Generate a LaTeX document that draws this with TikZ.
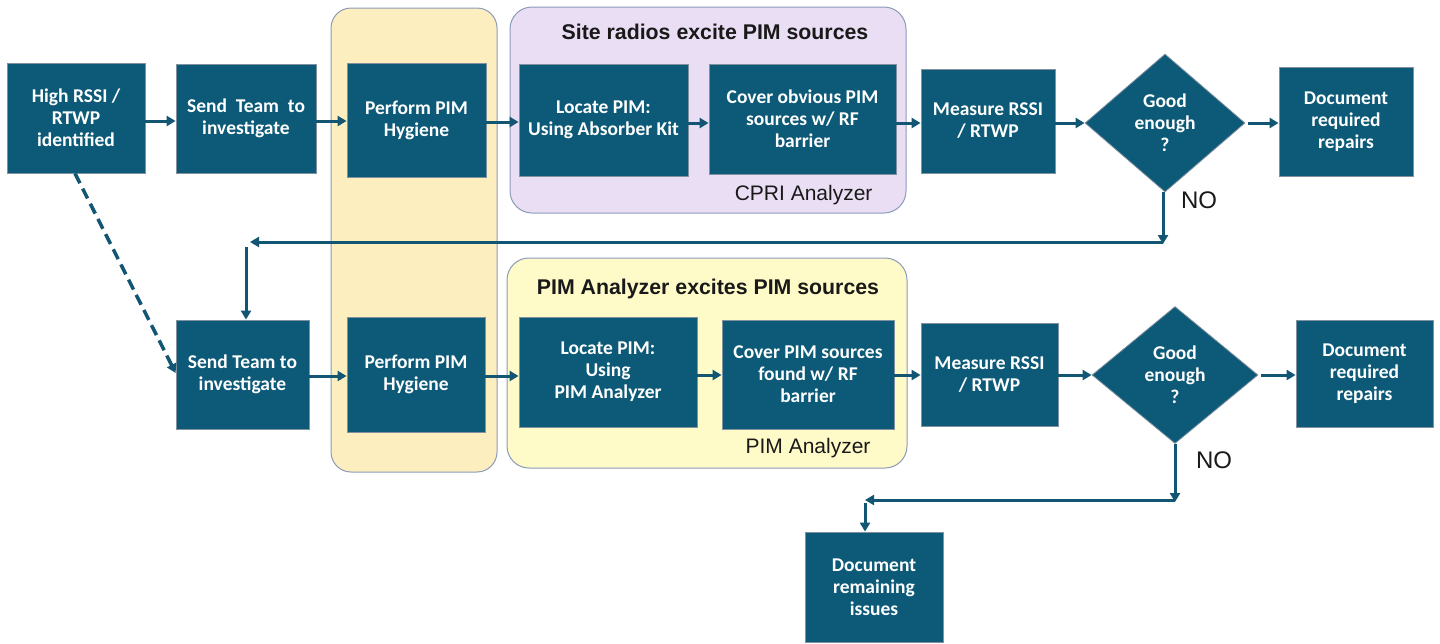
\documentclass[tikz,border=0pt]{standalone}
\usepackage{fontspec}
\setmainfont{Carlito}
\newfontfamily\arialf{Liberation Sans}
\usetikzlibrary{shapes.geometric,arrows.meta}
\definecolor{teal}{RGB}{12,90,120}
\definecolor{arrowc}{RGB}{18,86,116}
\definecolor{boxline}{RGB}{130,145,160}
\definecolor{colfill}{RGB}{253,238,192}
\definecolor{purfill}{RGB}{234,222,244}
\definecolor{yelfill}{RGB}{255,251,200}
\definecolor{grpline}{RGB}{140,155,185}
\tikzset{
  stepbox/.style={draw=boxline, line width=0.8pt, fill=teal, text=white, align=center,
    inner sep=0pt, font=\fontsize{19.5}{22}\selectfont\bfseries},
  decbox/.style={diamond, draw=boxline, line width=0.8pt, fill=teal, text=white, align=center,
    inner sep=0pt, font=\fontsize{19.5}{22}\selectfont\bfseries},
  grp/.style={draw=grpline, line width=1pt, rounded corners=22pt},
  flow/.style={draw=arrowc, line width=3pt, -{Triangle[length=9pt,width=10pt]}},
  dflow/.style={draw=arrowc, line width=3.5pt, dash pattern=on 11pt off 6pt, -{Triangle[length=9pt,width=10pt]}},
  title/.style={font=\arialf\fontsize{21.3}{24}\selectfont\bfseries, text=black!90},
  lab/.style={font=\arialf\fontsize{21}{25}\selectfont, text=black!90},
}
\begin{document}
\begin{tikzpicture}[x=1pt,y=-1pt]
\useasboundingbox (0,0) rectangle (1440,643);
% group backgrounds
\path[grp, fill=colfill, rounded corners=20pt] (331,8) rectangle (497,472);
\path[grp, fill=purfill] (510,7) rectangle (906,213);
\path[grp, fill=yelfill] (507,258) rectangle (907,468);
\node[title] (t1) at (715,32) {Site radios excite PIM sources};
\node[title] (t2) at (708,289) {PIM Analyzer excites PIM sources};
\node[lab, anchor=east] (l1) at (876,195) {CPRI Analyzer};
\node[lab, anchor=east] (l2) at (874,448) {PIM Analyzer};
% top row
\node[stepbox, minimum width=138pt, minimum height=110pt] (b1) at (76,118) {High RSSI /\\RTWP\\identified};
\node[stepbox, minimum width=140pt, minimum height=109pt] (b2) at (246,118.5) {Send\ \ Team\ \ to\\investigate};
\node[stepbox, minimum width=139pt, minimum height=114pt] (b3) at (416.5,120) {Perform PIM\\Hygiene};
\node[stepbox, minimum width=169pt, minimum height=112pt] (b4) at (603.5,120) {Locate PIM:\\Using Absorber Kit};
\node[stepbox, minimum width=187pt, minimum height=110pt] (b5) at (802.5,119) {Cover obvious PIM\\sources w/ RF\\barrier};
\node[stepbox, minimum width=134pt, minimum height=104pt] (b6) at (988,121) {Measure RSSI\\/ RTWP};
\node[decbox, minimum width=160pt, minimum height=138pt] (d1) at (1165,123) {Good\\enough\\?};
\node[stepbox, minimum width=134pt, minimum height=109pt] (b7) at (1346,121.5) {Document\\required\\repairs};
% bottom row
\node[stepbox, minimum width=133pt, minimum height=109pt] (b8) at (242.5,374.5) {Send Team to\\investigate};
\node[stepbox, minimum width=138pt, minimum height=115pt] (b9) at (416,374.5) {Perform PIM\\Hygiene};
\node[stepbox, minimum width=178pt, minimum height=110pt] (b10) at (608,372) {Locate PIM:\\Using\\PIM Analyzer};
\node[stepbox, minimum width=172pt, minimum height=109pt] (b11) at (808,374.5) {Cover PIM sources\\found w/ RF\\barrier};
\node[stepbox, minimum width=137pt, minimum height=103pt] (b12) at (989.5,374.5) {Measure RSSI\\/ RTWP};
\node[decbox, minimum width=166pt, minimum height=137pt] (d2) at (1175,375) {Good\\enough\\?};
\node[stepbox, minimum width=137pt, minimum height=107pt] (b13) at (1364.5,373.5) {Document\\required\\repairs};
\node[stepbox, minimum width=138pt, minimum height=110pt] (b14) at (874,587) {Document\\remaining\\issues};
\node[lab, font=\arialf\fontsize{24}{28}\selectfont] (no1) at (1199,200) {NO};
\node[lab, font=\arialf\fontsize{24}{28}\selectfont] (no2) at (1214,460) {NO};
% helper coordinates
\coordinate (r1) at (1163,242);
\coordinate (r2) at (250,242);
\coordinate (r3) at (246,247);
\coordinate (s1) at (1175,500);
\coordinate (s2) at (865,500);
\coordinate (s3) at (865,503);
% top connectors
\draw[flow] (b1.east |- 0,121) -- (b2.west |- 0,121);
\draw[flow] (b2.east |- 0,121) -- (b3.west |- 0,121);
\draw[flow] (b3.east |- 0,122) -- (b4.west |- 0,122);
\draw[flow] (b4.east |- 0,123) -- (b5.west |- 0,123);
\draw[flow] (b5.east |- 0,123) -- (b6.west |- 0,123);
\draw[flow] (b6.east |- 0,123) -- (d1.west);
\draw[flow] ([xshift=3pt]d1.east) -- (b7.west |- 0,123);
\draw[flow] (d1.south -| r1) -- ([yshift=-2pt]r1);
\draw[flow] (r1) -- (r2);
\draw[flow] (r3) -- (r3 |- b8.north);
\draw[dflow] (b1.south -| 75,0) -- (b8.west |- 0,373);
% bottom connectors
\draw[flow] (b8.east |- 0,376) -- (b9.west |- 0,376);
\draw[flow] (b9.east |- 0,376) -- (b10.west |- 0,376);
\draw[flow] (b10.east |- 0,375) -- (b11.west |- 0,375);
\draw[flow] (b11.east |- 0,375) -- (b12.west |- 0,375);
\draw[flow] (b12.east |- 0,375) -- (d2.west);
\draw[flow] ([xshift=3pt]d2.east) -- (b13.west |- 0,375);
\draw[flow] (d2.south) -- ([yshift=-2pt]s1);
\draw[flow] (s1) -- (s2);
\draw[flow] (s3) -- (s3 |- b14.north);
\end{tikzpicture}
\end{document}
